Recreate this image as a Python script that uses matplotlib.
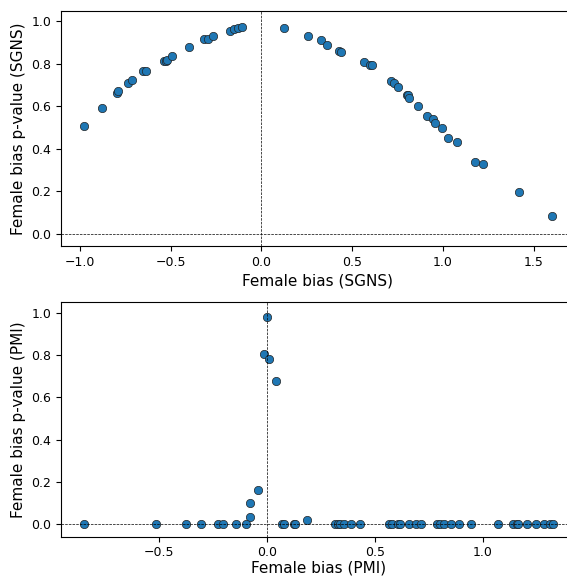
import numpy as np
import matplotlib
matplotlib.use('Agg')
import matplotlib.pyplot as plt

# SGNS bias vs p-value
sgns_bias = [-0.975, -0.876, -0.795, -0.788, -0.732, -0.714, -0.651, -0.634, -0.538, -0.527,
             -0.519, -0.494, -0.398, -0.314, -0.292, -0.266, -0.171, -0.149, -0.127, -0.105,
             0.127, 0.257, 0.329, 0.362, 0.428, 0.439, 0.566, 0.596, 0.610, 0.714,
             0.729, 0.751, 0.802, 0.806, 0.813, 0.865, 0.912, 0.945, 0.956, 0.993,
             1.030, 1.075, 1.175, 1.222, 1.421, 1.599]
sgns_p = [0.507, 0.593, 0.661, 0.672, 0.711, 0.724, 0.765, 0.768, 0.811, 0.815,
          0.819, 0.838, 0.879, 0.918, 0.919, 0.929, 0.956, 0.964, 0.968, 0.973,
          0.968, 0.932, 0.910, 0.889, 0.861, 0.855, 0.808, 0.794, 0.795, 0.721,
          0.711, 0.691, 0.652, 0.655, 0.641, 0.603, 0.556, 0.539, 0.521, 0.496,
          0.452, 0.430, 0.337, 0.326, 0.194, 0.085]

# PMI bias vs p-value
pmi_bias = [0.0, -0.016, 0.009, 0.042, -0.044, -0.081, -0.081, 0.183,
            -0.848, -0.515, -0.377, -0.305, -0.230, -0.204, -0.145, -0.097, 0.068, 0.078,
            0.125, 0.130, 0.315, 0.328, 0.340, 0.356, 0.389, 0.429, 0.567, 0.579,
            0.606, 0.619, 0.659, 0.690, 0.714, 0.788, 0.804, 0.820, 0.853, 0.891,
            0.945, 1.073, 1.142, 1.158, 1.166, 1.205, 1.246, 1.283, 1.315, 1.325]
pmi_p = [0.979, 0.803, 0.780, 0.676, 0.163, 0.100, 0.033, 0.019] + [0.0] * 40

W, H = 567, 576
fig = plt.figure(figsize=(W / 100, H / 100), dpi=100)

def panel(rect, x, y, name, pad):
	ax = fig.add_axes(rect)
	ax.scatter(x, y, s=36, color='#1f77b4', edgecolor='#222222', linewidth=0.5)
	ax.axhline(0, color='k', ls='--', lw=0.5)
	ax.axvline(0, color='k', ls='--', lw=0.5)
	ax.set_ylim(-0.06, 1.05)
	ax.set_yticks([0.0, 0.2, 0.4, 0.6, 0.8, 1.0])
	ax.tick_params(labelsize=9)
	ax.set_xlabel('Female bias (%s)' % name, fontsize=11, labelpad=pad)
	ax.set_ylabel('Female bias p-value (%s)' % name, fontsize=11)
	return ax

panel([61 / W, 1 - 246.3 / H, (575 - 61) / W, (246.3 - 10.7) / H], sgns_bias, sgns_p, 'SGNS', 3)
ax2 = panel([61 / W, 1 - 536.7 / H, (576 - 61) / W, (536.7 - 302.3) / H], pmi_bias, pmi_p, 'PMI', 0.5)
ax2.set_xticks([-0.5, 0.0, 0.5, 1.0])

fig.savefig('out.png', dpi=100)
